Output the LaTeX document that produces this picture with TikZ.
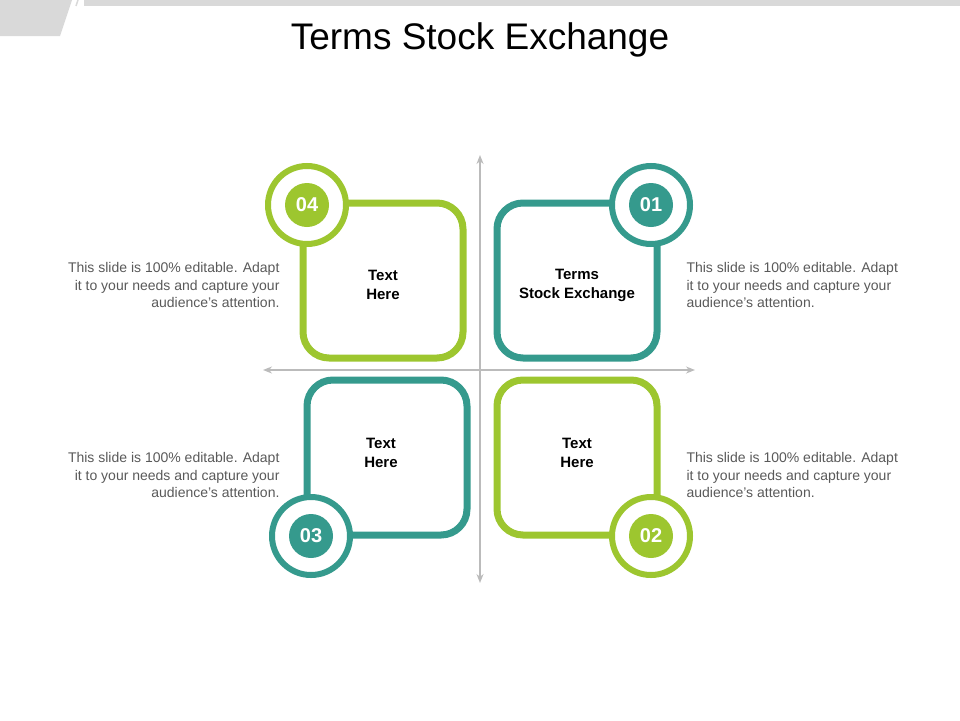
\documentclass[tikz,border=0pt]{standalone}
\usepackage{fontspec}
\setmainfont{Liberation Sans}
\usetikzlibrary{arrows.meta}
\definecolor{teal1}{HTML}{359A8D}
\definecolor{green1}{HTML}{9DC62F}
\definecolor{axis1}{HTML}{BBBBBB}
\tikzset{
  card/.style={line width=7pt, rounded corners=26pt},
  ring/.style={draw=#1, line width=6pt, fill=white},
  num/.style={circle, minimum size=44pt, inner sep=0pt, text=white, font=\bfseries\fontsize{20}{20}\selectfont},
  label/.style={align=center, font=\bfseries\fontsize{15}{19}\selectfont},
  side/.style={font=\fontsize{14}{17.5}\selectfont, text=black!65},
}
\begin{document}
\begin{tikzpicture}[x=1pt, y=-1pt]
  \useasboundingbox (0,0) rectangle (960,720);
  % header decoration
  \fill[black!15] (0,0) -- (72,0) -- (60,36) -- (0,36) -- cycle;
  \fill[black!15] (84,0) rectangle (960,6);
  \draw[black!15, line width=1.5pt] (78,0) -- (76,6);
  \node[font=\fontsize{37}{37}\selectfont] (title) at (480,40) {Terms Stock Exchange};
  % axes
  \draw[axis1, line width=1.5pt, {Stealth[length=9pt,width=7pt]}-{Stealth[length=9pt,width=7pt]}] (480,155) -- (480,583);
  \draw[axis1, line width=1.5pt, {Stealth[length=9pt,width=7pt]}-{Stealth[length=9pt,width=7pt]}] (263,370) -- (695,370);
  % cards
  \draw[card, teal1] (497,203) rectangle (657,358);
  \draw[ring=teal1] (651,205) circle (39);
  \node[num, fill=teal1] (n1) at (651,205) {01};
  \draw[card, green1] (303,203) rectangle (463,358);
  \draw[ring=green1] (307,205) circle (39);
  \node[num, fill=green1] (n4) at (307,205) {04};
  \draw[card, teal1] (307,380) rectangle (467,535);
  \draw[ring=teal1] (311,536) circle (39);
  \node[num, fill=teal1] (n3) at (311,536) {03};
  \draw[card, green1] (497,380) rectangle (657,535);
  \draw[ring=green1] (651,536) circle (39);
  \node[num, fill=green1] (n2) at (651,536) {02};
  % card texts
  \node[label] (t1) at (577,285) {Terms\\Stock Exchange};
  \node[label] (t4) at (383,285) {Text\\Here};
  \node[label] (t3) at (381,453) {Text\\Here};
  \node[label] (t2) at (577,453) {Text\\Here};
  % side texts
  \node[side, align=right, anchor=east] (s4) at (283,285) {This slide is 100\% editable. Adapt\\it to your needs and capture your\\audience's attention.};
  \node[side, align=right, anchor=east] (s3) at (283,475) {This slide is 100\% editable. Adapt\\it to your needs and capture your\\audience's attention.};
  \node[side, align=left, anchor=west] (s1) at (683,285) {This slide is 100\% editable. Adapt\\it to your needs and capture your\\audience's attention.};
  \node[side, align=left, anchor=west] (s2) at (683,475) {This slide is 100\% editable. Adapt\\it to your needs and capture your\\audience's attention.};
\end{tikzpicture}
\end{document}
